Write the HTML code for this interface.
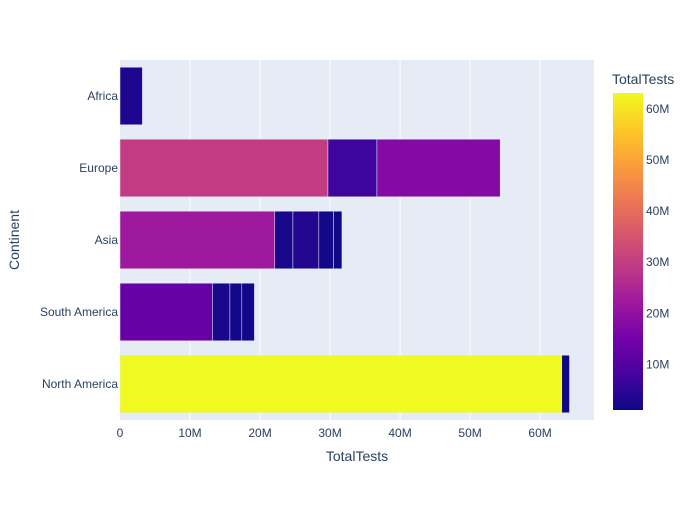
<!DOCTYPE html>
<html><head><meta charset="utf-8">
<style>
body{margin:0;background:#fff;font-family:"Liberation Sans",sans-serif;}
svg text{font-family:"Liberation Sans",sans-serif;fill:#2a3f5f;}
</style></head><body>
<svg id="c" width="700" height="500"></svg>
<script>
const continents=["North America","South America","Asia","Europe","Africa"];
const segAfrica=[3.2];
const segEurope=[29.7,7.0,17.6];
const segAsia=[22.1,2.6,3.7,2.1,1.2];
const segSouthAmerica=[13.2,2.5,1.7,1.8];
const segNorthAmerica=[63.1,1.1];
const xTicks=[0,10,20,30,40,50,60];
const xTickLabels=["0","10M","20M","30M","40M","50M","60M"];
const cbTicks=[10,20,30,40,50,60];
const cbTickLabels=["10M","20M","30M","40M","50M","60M"];
const cMin=1.1,cMax=63.1;
const segs={"North America":segNorthAmerica,"South America":segSouthAmerica,"Asia":segAsia,"Europe":segEurope,"Africa":segAfrica};
const NS="http://www.w3.org/2000/svg",svg=document.getElementById('c');
function el(t,a,p){const e=document.createElementNS(NS,t);for(const k in a)e.setAttribute(k,a[k]);(p||svg).appendChild(e);return e;}
const L=120,R=594,T=60,B=420,xMax=67.7;
const x=v=>L+v/xMax*(R-L);
const band=(B-T)/continents.length;
const y=i=>B-band*(i+0.5);
const stops=["#0d0887","#46039f","#7201a8","#9c179e","#bd3786","#d8576b","#ed7953","#fb9f3a","#fdca26","#f0f921"];
function hex(h){return [1,3,5].map(i=>parseInt(h.substr(i,2),16));}
function color(v){let t=Math.max(0,Math.min(1,(v-cMin)/(cMax-cMin)))*(stops.length-1);let i=Math.min(Math.floor(t),stops.length-2),f=t-i;const a=hex(stops[i]),b=hex(stops[i+1]);return "rgb("+a.map((c,k)=>Math.round(c+(b[k]-c)*f)).join(",")+")";}
let r=el('rect',{x:L,y:T,width:R-L,height:B-T,fill:'#e5ecf6'});

xTicks.forEach((t,i)=>{
 if(t>0){let g=el('line',{x1:x(t),x2:x(t),y1:T,y2:B,stroke:'#fff','stroke-width':1});}
 let tx=el('text',{x:x(t),y:B+17,'text-anchor':'middle','font-size':12});tx.textContent=xTickLabels[i];
 
});
continents.forEach((c,i)=>{
 let acc=0;
 segs[c].forEach(v=>{
  let b=el('rect',{x:x(acc),y:y(i)-band*0.4,width:x(acc+v)-x(acc),height:band*0.8,fill:color(v),stroke:'#e5ecf6','stroke-width':0.5});
  
  acc+=v;
 });
 let tx=el('text',{x:L-2,y:y(i)+4,'text-anchor':'end','font-size':12});tx.textContent=c;
 
});
let xt=el('text',{x:(L+R)/2,y:461,'text-anchor':'middle','font-size':14});xt.textContent="TotalTests";

let yt=el('text',{x:19,y:240,'text-anchor':'middle','font-size':14,transform:'rotate(-90 19 240)'});yt.textContent="Continent";

// colorbar
const cbT=93,cbB=410,cbL=613,cbW=30;
const cy=v=>cbB-(v-cMin)/(cMax-cMin)*(cbB-cbT);
const defs=el('defs',{});const lg=el('linearGradient',{id:'g',x1:0,y1:1,x2:0,y2:0},defs);
stops.forEach((s,i)=>el('stop',{offset:i/(stops.length-1),'stop-color':s},lg));
let cb=el('rect',{x:cbL,y:cbT,width:cbW,height:cbB-cbT,fill:'url(#g)'});

cbTicks.forEach((t,i)=>{let tx=el('text',{x:cbL+cbW+3,y:cy(t)+4,'font-size':12});tx.textContent=cbTickLabels[i];
 });
let ct=el('text',{x:612,y:84,'font-size':14});ct.textContent="TotalTests";

</script>
</body></html>
